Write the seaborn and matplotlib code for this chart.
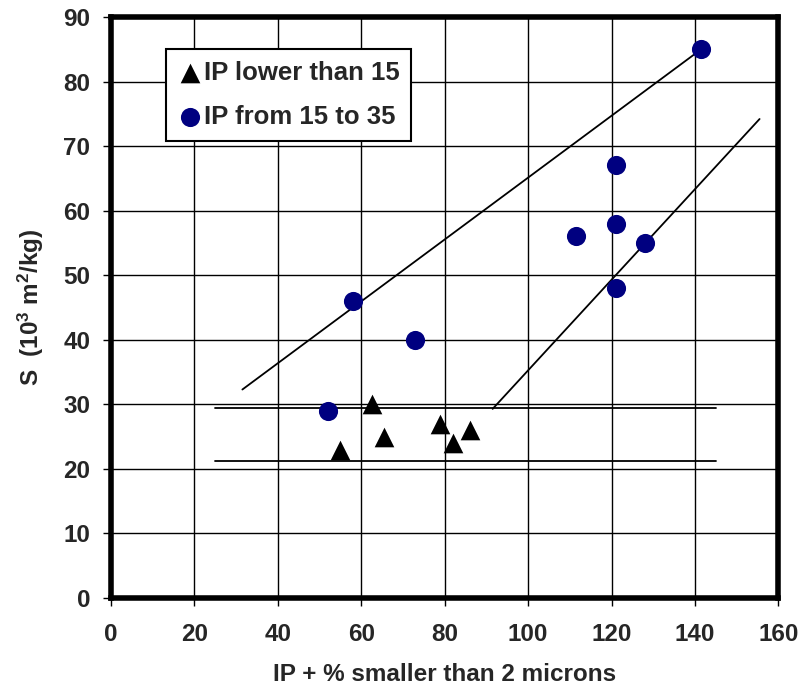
import matplotlib
matplotlib.use("Agg")
import matplotlib.pyplot as plt
import numpy as np
import pandas as pd
import seaborn as sns

# data
low_x = [55, 62.5, 65.5, 79, 82, 86]
low_y = [23, 30, 25, 27, 24, 26]
mid_x = [52, 58, 73, 111.5, 121, 121, 121, 128, 141.5]
mid_y = [29, 46, 40, 56, 67, 58, 48, 55, 85]

# envelope lines drawn on the chart
upper_x = [31.5, 141.5]
upper_y = [32.3, 85]
diag_x = [91.5, 155.5]
diag_y = [29.3, 74.2]
hi_band_x = [25, 145]
hi_band_y = [29.4, 29.4]
lo_band_x = [25, 145]
lo_band_y = [21.3, 21.3]

x_ticks = np.arange(0, 161, 20)
y_ticks = np.arange(0, 91, 10)

sns.set_style("white")
plt.rcParams["font.family"] = ["Liberation Sans", "DejaVu Sans"]
plt.rcParams["font.weight"] = "bold"
plt.rcParams["mathtext.fontset"] = "custom"
plt.rcParams["mathtext.bf"] = "Liberation Sans:bold"
plt.rcParams["mathtext.rm"] = "Liberation Sans:bold"
plt.rcParams["mathtext.default"] = "bf"

fig = plt.figure(figsize=(8.06, 6.93), dpi=100)
ax = fig.add_axes([0.1377, 0.137, 0.828, 0.8385])

for lx, ly in [(upper_x, upper_y), (diag_x, diag_y),
               (hi_band_x, hi_band_y), (lo_band_x, lo_band_y)]:
    sns.lineplot(x=lx, y=ly, ax=ax, color="black", linewidth=1.3,
                 legend=False, zorder=3)

sns.scatterplot(x=low_x, y=low_y, ax=ax, marker="^", color="black", s=200,
                edgecolor="black", linewidth=0, label="IP lower than 15",
                zorder=4)
sns.scatterplot(x=mid_x, y=mid_y, ax=ax, marker="o", color="#000080", s=190,
                edgecolor="#000080", linewidth=0, label="IP from 15 to 35",
                zorder=4)

ax.set_xlim(0, 160)
ax.set_ylim(0, 90)
ax.set_xticks(x_ticks)
ax.set_yticks(y_ticks)
ax.grid(True, color="black", linewidth=1.0)
ax.set_axisbelow(True)
for sp in ax.spines.values():
    sp.set_visible(True)
    sp.set_color("black")
    sp.set_linewidth(4)
ax.tick_params(axis="both", direction="out", length=6, width=1,
               color="black", labelsize=17.5, bottom=True, left=True)
ax.tick_params(axis="x", pad=12)
ax.tick_params(axis="y", pad=9)
for lab in ax.get_xticklabels() + ax.get_yticklabels():
    lab.set_fontweight("bold")

ax.set_xlabel("IP + % smaller than 2 microns", fontsize=17.5,
              fontweight="bold", labelpad=12)
ax.set_ylabel("S  (10$^{3}$ m$^{2}$/kg)", fontsize=17.5,
              fontweight="bold", labelpad=12)

leg = ax.legend(loc="upper left", bbox_to_anchor=(0.083, 0.945),
                frameon=True, fancybox=False, fontsize=18.5, handletextpad=0.1,
                borderpad=0.45, labelspacing=0.8, handlelength=0.9,
                borderaxespad=0)
leg.get_frame().set_edgecolor("black")
leg.get_frame().set_linewidth(1.5)
leg.get_frame().set_alpha(1)

fig.savefig("out.png", dpi=100)
